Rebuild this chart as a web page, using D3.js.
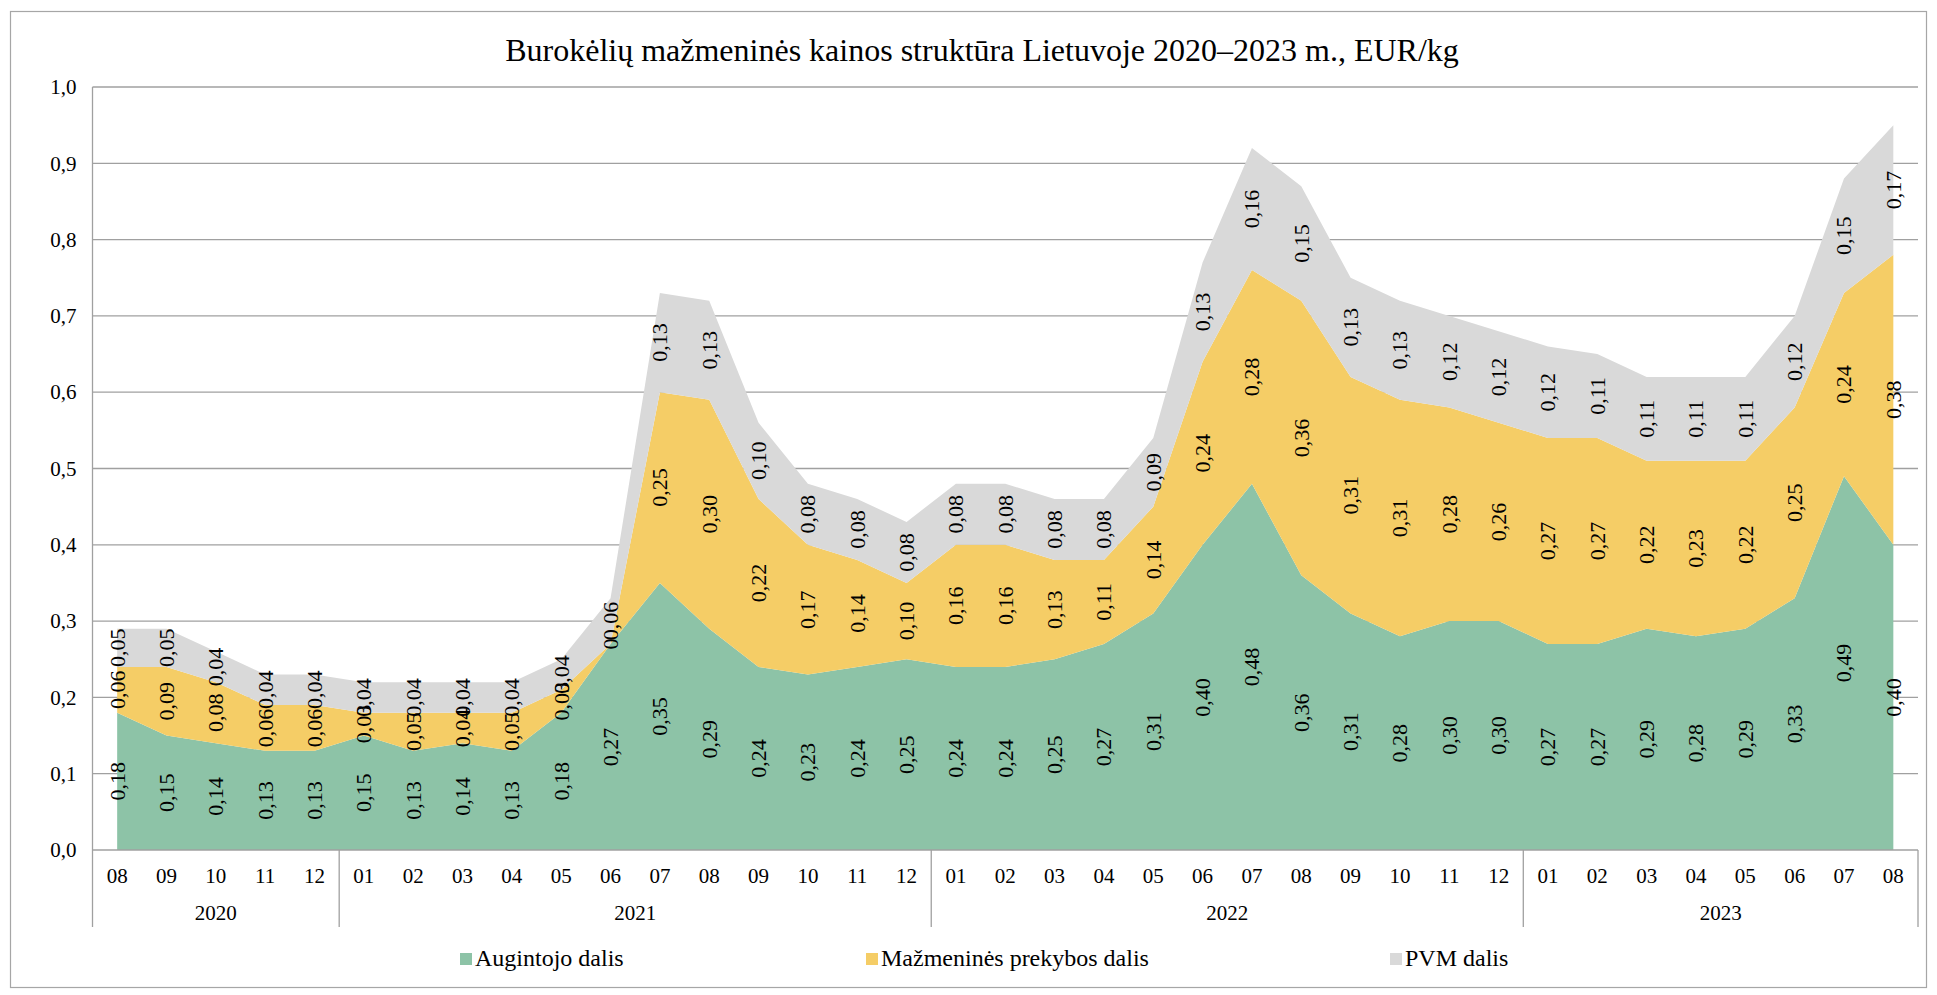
<!DOCTYPE html>
<html>
<head>
<meta charset="utf-8">
<script src="https://cdn.jsdelivr.net/npm/d3@7/dist/d3.min.js"></script>
<style>
  html, body { margin: 0; padding: 0; background: #ffffff; }
  svg { display: block; }
  svg text { font-family: "Liberation Serif", "Times New Roman", serif !important; fill: #000; }
</style>
</head>
<body>
<svg id="chart" width="1937" height="995" font-family="Liberation Serif, Times New Roman, serif"></svg>
<script>
// ---- data ----
const title = "Burokėlių mažmeninės kainos struktūra Lietuvoje 2020–2023 m., EUR/kg";
const years = ["2020", "2021", "2022", "2023"];
const monthsPerYear = [
  ["08", "09", "10", "11", "12"],
  ["01", "02", "03", "04", "05", "06", "07", "08", "09", "10", "11", "12"],
  ["01", "02", "03", "04", "05", "06", "07", "08", "09", "10", "11", "12"],
  ["01", "02", "03", "04", "05", "06", "07", "08"]
];
const seriesNames = ["Augintojo dalis", "Mažmeninės prekybos dalis", "PVM dalis"];
const augintojo = [0.18, 0.15, 0.14, 0.13, 0.13,
  0.15, 0.13, 0.14, 0.13, 0.18, 0.27, 0.35, 0.29, 0.24, 0.23, 0.24, 0.25,
  0.24, 0.24, 0.25, 0.27, 0.31, 0.40, 0.48, 0.36, 0.31, 0.28, 0.30, 0.30,
  0.27, 0.27, 0.29, 0.28, 0.29, 0.33, 0.49, 0.40];
const prekybos = [0.06, 0.09, 0.08, 0.06, 0.06,
  0.03, 0.05, 0.04, 0.05, 0.03, 0.00, 0.25, 0.30, 0.22, 0.17, 0.14, 0.10,
  0.16, 0.16, 0.13, 0.11, 0.14, 0.24, 0.28, 0.36, 0.31, 0.31, 0.28, 0.26,
  0.27, 0.27, 0.22, 0.23, 0.22, 0.25, 0.24, 0.38];
const pvm = [0.05, 0.05, 0.04, 0.04, 0.04,
  0.04, 0.04, 0.04, 0.04, 0.04, 0.06, 0.13, 0.13, 0.10, 0.08, 0.08, 0.08,
  0.08, 0.08, 0.08, 0.08, 0.09, 0.13, 0.16, 0.15, 0.13, 0.13, 0.12, 0.12,
  0.12, 0.11, 0.11, 0.11, 0.11, 0.12, 0.15, 0.17];
const yTicks = [0, 0.1, 0.2, 0.3, 0.4, 0.5, 0.6, 0.7, 0.8, 0.9, 1.0];
const colors = ["#8dc3a7", "#f5cd66", "#d9d9d9"];

// ---- build table ----
const rows = [];
years.forEach((y, yi) => monthsPerYear[yi].forEach(m => rows.push({ key: y + "-" + m, year: y, month: m })));
rows.forEach((r, i) => { r.a = augintojo[i]; r.p = prekybos[i]; r.v = pvm[i]; });
const keys = ["a", "p", "v"];

const FONT = '"Liberation Serif", "Times New Roman", serif';
const svg = d3.select("#chart");
const L = 92.5, R = 1918, T = 87, B = 850;
const x = d3.scaleBand().domain(rows.map(r => r.key)).range([L, R]).padding(0);
const cx = k => x(k) + x.bandwidth() / 2;
const y = d3.scaleLinear().domain([0, 1]).range([B, T]);

// outer border
svg.append("rect").attr("x", 10.5).attr("y", 11.5).attr("width", 1916).attr("height", 976)
  .attr("fill", "none").attr("stroke", "#a6a6a6").attr("stroke-width", 1.2);

// title
svg.append("text").attr("x", 982).attr("y", 61).attr("text-anchor", "middle")
  .attr("font-family", FONT).attr("font-size", 32).text(title);

// gridlines
svg.append("g").selectAll("line").data(yTicks.filter(t => t > 0)).join("line")
  .attr("x1", L).attr("x2", R).attr("y1", d => y(d)).attr("y2", d => y(d))
  .attr("stroke", "#a0a0a0").attr("stroke-width", 1.3);

// stacked areas
const stack = d3.stack().keys(keys);
const series = stack(rows);
const area = d3.area().x(d => cx(d.data.key)).y0(d => y(d[0])).y1(d => y(d[1]));
svg.append("g").selectAll("path").data(series).join("path")
  .attr("d", area).attr("fill", (d, i) => colors[i]);

// y axis labels
const yAxis = d3.axisLeft(y).tickValues(yTicks).tickSize(0).tickPadding(16)
  .tickFormat(d => d3.format(".1f")(d).replace(".", ","));
const gy = svg.append("g").attr("transform", `translate(${L},0)`).call(yAxis)
  .attr("font-family", FONT);
gy.select(".domain").remove();
gy.selectAll("text").attr("font-size", 21).attr("font-family", FONT).attr("fill", "#000");

// axis lines
svg.append("line").attr("x1", L).attr("x2", L).attr("y1", T).attr("y2", 927)
  .attr("stroke", "#a0a0a0").attr("stroke-width", 1.3);
svg.append("line").attr("x1", L).attr("x2", R).attr("y1", B).attr("y2", B)
  .attr("stroke", "#a0a0a0").attr("stroke-width", 1.3);

// x axis month labels
const xAxis = d3.axisBottom(x).tickSize(0).tickPadding(18).tickFormat(k => k.split("-")[1]);
const gx = svg.append("g").attr("transform", `translate(0,${B})`).call(xAxis)
  .attr("font-family", FONT);
gx.select(".domain").remove();
gx.selectAll("text").attr("font-size", 21).attr("font-family", FONT).attr("fill", "#000");

// year groups
const yearGroups = years.map(yr => {
  const ks = rows.filter(r => r.year === yr).map(r => r.key);
  return { year: yr, x0: x(ks[0]), x1: x(ks[ks.length - 1]) + x.bandwidth() };
});
svg.append("g").selectAll("line").data(yearGroups).join("line")
  .attr("x1", d => d.x1).attr("x2", d => d.x1).attr("y1", B).attr("y2", 927)
  .attr("stroke", "#a0a0a0").attr("stroke-width", 1.3);
svg.append("g").selectAll("text").data(yearGroups).join("text")
  .attr("x", d => (d.x0 + d.x1) / 2).attr("y", 920).attr("text-anchor", "middle")
  .attr("font-family", FONT).attr("font-size", 21).text(d => d.year);

// data labels
const fmt = v => v === 0 ? "0" : d3.format(".2f")(v).replace(".", ",");
const lg = svg.append("g").attr("font-family", FONT);
series.forEach(s => {
  s.forEach(d => {
    const v = d[1] - d[0];
    const px = cx(d.data.key), py = y((d[0] + d[1]) / 2);
    lg.append("text")
      .attr("transform", `translate(${px + 7.5},${py}) rotate(-90)`)
      .attr("text-anchor", "middle").attr("font-family", FONT).attr("font-size", 22)
      .text(fmt(Math.round(v * 100) / 100));
  });
});

// legend
const legendX = [460, 866, 1390];
const leg = svg.append("g").selectAll("g").data(seriesNames).join("g")
  .attr("transform", (d, i) => `translate(${legendX[i]},953)`);
leg.append("rect").attr("width", 12).attr("height", 12).attr("fill", (d, i) => colors[i]);
leg.append("text").attr("x", 15).attr("y", 13).attr("font-family", FONT).attr("font-size", 24).text(d => d);
</script>
</body>
</html>
